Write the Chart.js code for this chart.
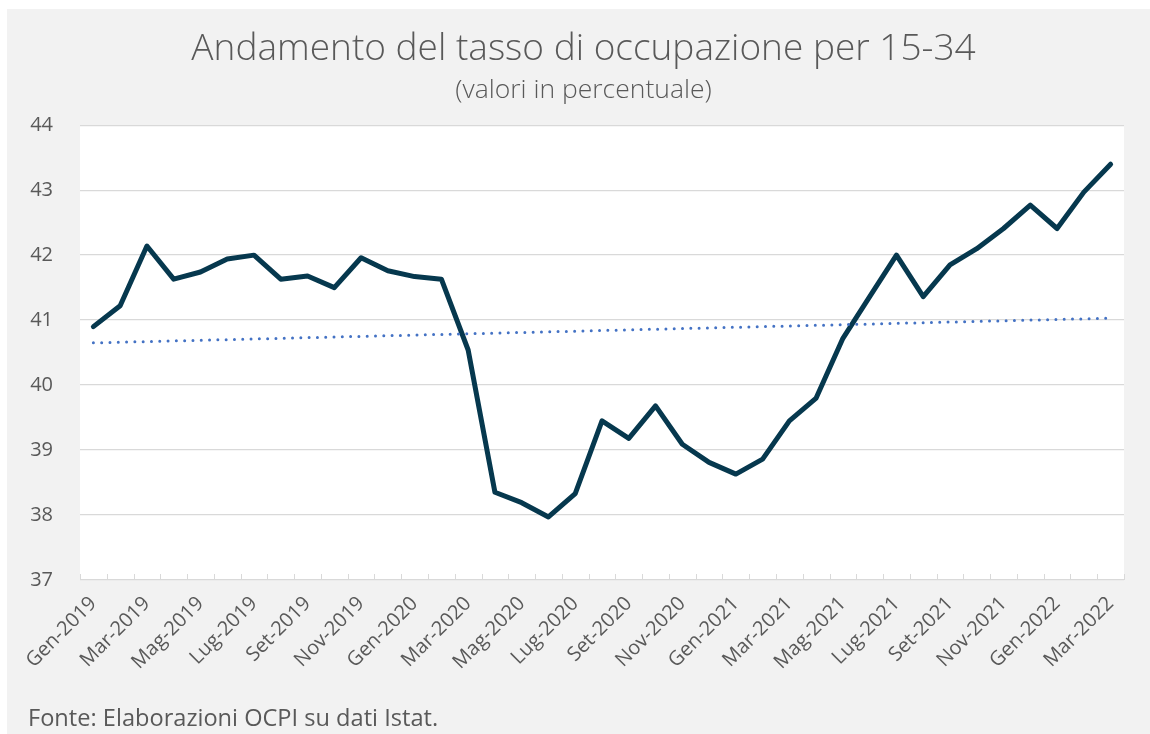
<!DOCTYPE html>
<html><head><meta charset="utf-8">
<script src="https://cdn.jsdelivr.net/npm/chart.js@4.4.1/dist/chart.umd.min.js"></script>
<style>
html,body{margin:0;padding:0;background:#ffffff;width:1150px;height:734px;overflow:hidden;}
#box{position:absolute;left:7px;top:9px;width:1143px;height:725px;background:#f2f2f2;}
#c{position:absolute;left:0;top:0;}
#src{position:absolute;left:21px;top:694px;font-family:"Open Sans",Lato,sans-serif;font-size:23.6px;line-height:28px;color:#595959;white-space:nowrap;}
</style></head>
<body>
<div id="box">
<canvas id="c" width="1143" height="725"></canvas>
<div id="src">Fonte: Elaborazioni OCPI su dati Istat.</div>
</div>
<script>
const months = [
 'Gen-2019','Feb-2019','Mar-2019','Apr-2019','Mag-2019','Giu-2019','Lug-2019','Ago-2019','Set-2019','Ott-2019','Nov-2019','Dic-2019',
 'Gen-2020','Feb-2020','Mar-2020','Apr-2020','Mag-2020','Giu-2020','Lug-2020','Ago-2020','Set-2020','Ott-2020','Nov-2020','Dic-2020',
 'Gen-2021','Feb-2021','Mar-2021','Apr-2021','Mag-2021','Giu-2021','Lug-2021','Ago-2021','Set-2021','Ott-2021','Nov-2021','Dic-2021',
 'Gen-2022','Feb-2022','Mar-2022'
];
const tassoOccupazione = [
 40.90, 41.22, 42.14, 41.63, 41.74, 41.94, 42.00, 41.63, 41.68, 41.50, 41.96, 41.76,
 41.67, 41.63, 40.54, 38.35, 38.19, 37.97, 38.33, 39.45, 39.18, 39.68, 39.09, 38.81,
 38.63, 38.86, 39.45, 39.80, 40.72, 41.36, 42.00, 41.36, 41.85, 42.10, 42.41, 42.77,
 42.41, 42.97, 43.40
];
const trendStart = 40.65;
const trendEnd = 41.03;
const yTicks = [37, 38, 39, 40, 41, 42, 43, 44];

const TEXT = '#595959';
const TITLE_SHIFT = 18;
Chart.defaults.font.family = '"Open Sans", Lato, sans-serif';
Chart.defaults.color = TEXT;

const plotBg = {
  id: 'plotBg',
  beforeDraw(chart) {
    const a = chart.chartArea, ctx = chart.ctx;
    ctx.save(); ctx.fillStyle = '#ffffff';
    ctx.fillRect(a.left, a.top, a.right - a.left, a.bottom - a.top);
    ctx.restore();
  }
};
const tickMarks = {
  id: 'tickMarks',
  afterDraw(chart) {
    const xs = chart.scales.x, a = chart.chartArea, ctx = chart.ctx;
    ctx.save(); ctx.strokeStyle = '#d9d9d9'; ctx.lineWidth = 1;
    for (let i = 0; i <= months.length; i++) {
      const px = Math.round(xs.getPixelForValue(i - 0.5)) + 0.5;
      ctx.beginPath(); ctx.moveTo(px, a.bottom - 6); ctx.lineTo(px, a.bottom); ctx.stroke();
    }
    ctx.restore();
  }
};
const centerTitles = {
  id: 'centerTitles',
  afterLayout(chart) {
    chart.boxes.forEach(b => {
      if (b.options && typeof b.options.text === 'string') {
        b.left += TITLE_SHIFT; b.right += TITLE_SHIFT;
      }
    });
  }
};

new Chart(document.getElementById('c'), {
  type: 'line',
  data: {
    labels: months,
    datasets: [
      {
        label: 'Tasso di occupazione 15-34',
        data: tassoOccupazione,
        borderColor: '#06384e',
        borderWidth: 5,
        borderJoinStyle: 'round',
        borderCapStyle: 'round',
        pointRadius: 0,
        tension: 0,
        order: 2
      },
      {
        label: 'Tendenza lineare',
        data: [{x: months[0], y: trendStart}, {x: months[months.length - 1], y: trendEnd}],
        borderColor: '#4472c4',
        borderWidth: 3,
        borderDash: [0, 8.3],
        borderCapStyle: 'round',
        pointRadius: 0,
        tension: 0,
        order: 1
      }
    ]
  },
  options: {
    responsive: false,
    animation: false,
    devicePixelRatio: 1,
    layout: { padding: { left: 0, right: 26, top: 0, bottom: 0 } },
    plugins: {
      legend: { display: false },
      tooltip: { enabled: false },
      title: {
        display: true,
        text: 'Andamento del tasso di occupazione per 15-34',
        color: TEXT,
        font: { size: 37, weight: 300 },
        padding: { top: 18, bottom: 3 }
      },
      subtitle: {
        display: true,
        text: '(valori in percentuale)',
        color: TEXT,
        font: { size: 26.5, weight: 300 },
        padding: { top: 0, bottom: 19 }
      }
    },
    scales: {
      x: {
        type: 'category',
        offset: true,
        grid: { display: false },
        border: { display: false },
        ticks: {
          autoSkip: false,
          maxRotation: 45,
          minRotation: 45,
          padding: 4,
          color: TEXT,
          font: { size: 20 },
          callback: (v, i) => (i % 2 === 0 ? months[i] : '')
        },
        afterFit: s => { s.height = 154; }
      },
      y: {
        min: 37,
        max: 44,
        afterBuildTicks: s => { s.ticks = yTicks.map(v => ({ value: v })); },
        grid: { color: '#d9d9d9', lineWidth: 1.3, drawTicks: false },
        border: { display: false },
        ticks: { color: TEXT, font: { size: 20 }, padding: 27 },
        afterFit: s => { s.width = 73; }
      }
    }
  },
  plugins: [plotBg, tickMarks, centerTitles]
});
</script>
</body></html>
